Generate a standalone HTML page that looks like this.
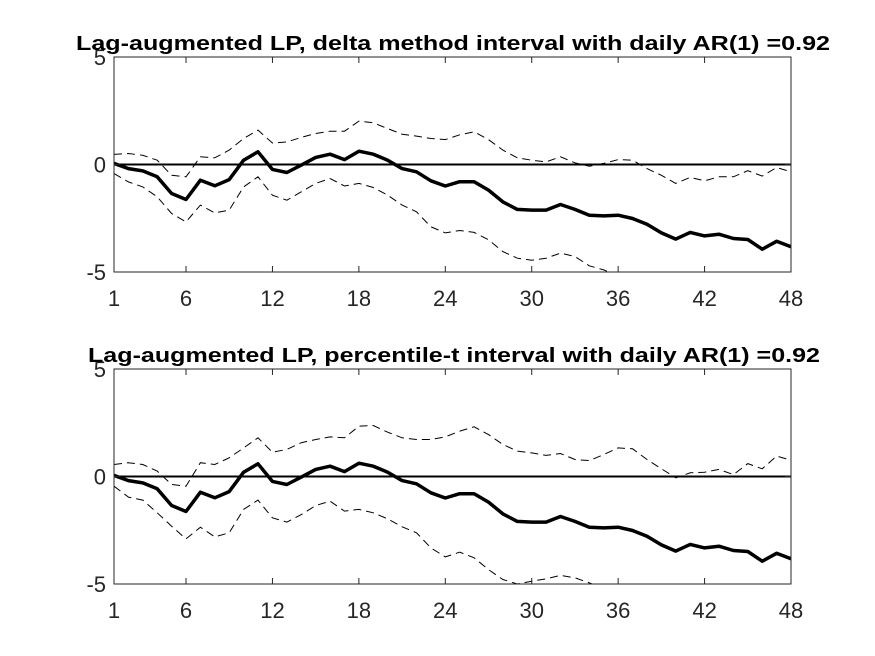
<!DOCTYPE html>
<html><head><meta charset="utf-8"><style>
body{margin:0;background:#fff;}
svg{display:block;font-family:"Liberation Sans",Arial,sans-serif;}
</style></head><body>
<svg id="chart" width="875" height="656"></svg>
<script>
const horizons = Array.from({length:48},(_,i)=>i+1);
const pointEst = [0.05,-0.19,-0.3,-0.57,-1.35,-1.63,-0.73,-0.99,-0.7,0.2,0.59,-0.23,-0.37,-0.03,0.33,0.48,0.23,0.62,0.48,0.2,-0.19,-0.34,-0.76,-1.0,-0.8,-0.8,-1.19,-1.74,-2.09,-2.12,-2.12,-1.86,-2.09,-2.36,-2.39,-2.36,-2.51,-2.78,-3.18,-3.47,-3.16,-3.32,-3.24,-3.44,-3.49,-3.94,-3.57,-3.83];
const deltaUpper = [0.47,0.51,0.43,0.2,-0.5,-0.57,0.36,0.31,0.67,1.21,1.6,1.0,1.05,1.26,1.44,1.55,1.55,2.02,1.94,1.67,1.41,1.32,1.21,1.16,1.38,1.52,1.16,0.67,0.31,0.2,0.12,0.36,0.08,-0.08,0.05,0.23,0.2,-0.19,-0.5,-0.88,-0.6,-0.76,-0.57,-0.57,-0.29,-0.54,-0.14,-0.34];
const deltaLower = [-0.42,-0.81,-1.04,-1.5,-2.28,-2.67,-1.89,-2.25,-2.12,-1.04,-0.57,-1.43,-1.66,-1.27,-0.88,-0.65,-1.0,-0.88,-1.07,-1.43,-1.89,-2.2,-2.9,-3.18,-3.07,-3.16,-3.5,-4.05,-4.36,-4.45,-4.36,-4.12,-4.28,-4.71,-4.9,-5.2,-5.4,-5.6,-5.8,-6.0,-5.9,-6.0,-5.9,-6.0,-5.9,-6.2,-5.9,-6.1];
const pctUpper = [0.56,0.64,0.56,0.25,-0.37,-0.45,0.64,0.56,0.87,1.33,1.8,1.13,1.26,1.57,1.72,1.84,1.8,2.34,2.37,2.06,1.8,1.72,1.72,1.84,2.11,2.31,1.95,1.49,1.18,1.1,0.98,1.07,0.79,0.74,1.02,1.33,1.29,0.79,0.36,-0.06,0.17,0.2,0.33,0.09,0.6,0.36,0.95,0.76];
const pctLower = [-0.45,-0.96,-1.1,-1.69,-2.31,-2.9,-2.36,-2.81,-2.62,-1.53,-1.1,-1.92,-2.12,-1.77,-1.35,-1.15,-1.61,-1.53,-1.69,-1.97,-2.34,-2.62,-3.32,-3.74,-3.52,-3.78,-4.33,-4.79,-5.0,-4.87,-4.76,-4.6,-4.71,-4.95,-5.2,-5.4,-5.6,-5.8,-6.0,-6.1,-6.0,-6.1,-6.0,-6.1,-6.0,-6.2,-6.0,-6.1];
const xTicks = [1,6,12,18,24,30,36,42,48];
const yTicks = [-5,0,5];
const titles = ["Lag-augmented LP, delta method interval with daily AR(1) =0.92","Lag-augmented LP, percentile-t interval with daily AR(1) =0.92"];

const NS="http://www.w3.org/2000/svg";
const svg=document.getElementById('chart');
function mk(t,a,p){const e=document.createElementNS(NS,t);for(const k in a)e.setAttribute(k,a[k]);(p||svg).appendChild(e);return e;}
const L=114,R=791;
const panels=[{top:57,bot:272,up:deltaUpper,lo:deltaLower,tx:76,tw:754},{top:369,bot:584,up:pctUpper,lo:pctLower,tx:88,tw:732}];
panels.forEach((P,pi)=>{
  const xs=h=>L+(h-1)*(R-L)/47;
  const ys=v=>P.bot-(v+5)*(P.bot-P.top)/10;
  const g=mk('g',{});
  
  
  const cp=mk('clipPath',{id:'cp'+pi},g);mk('rect',{x:L,y:P.top,width:R-L,height:P.bot-P.top},cp);
  const line=(arr,attrs,name)=>{const d=arr.map((v,i)=>(i?'L':'M')+xs(horizons[i]).toFixed(1)+','+ys(v).toFixed(1)).join('');
    const p=mk('path',Object.assign({d,fill:'none','clip-path':'url(#cp'+pi+')'},attrs),g);
    
    };
  const z=mk('line',{x1:L,x2:R,y1:ys(0),y2:ys(0),stroke:'#000','stroke-width':2},g);
  
  
  line(P.up,{stroke:'#000','stroke-width':1,'stroke-dasharray':'8,5'},'upper-band');
  line(P.lo,{stroke:'#000','stroke-width':1,'stroke-dasharray':'8,5'},'lower-band');
  line(pointEst,{stroke:'#000','stroke-width':3.5,'stroke-linejoin':'round'},'point-estimate');
  const ax=mk('rect',{x:L,y:P.top,width:R-L,height:P.bot-P.top,fill:'none',stroke:'#262626','stroke-width':1},g);
  
  
  xTicks.forEach(h=>{const x=xs(h);
    mk('line',{x1:x,x2:x,y1:P.bot,y2:P.bot-6,stroke:'#262626'},g);
    mk('line',{x1:x,x2:x,y1:P.top,y2:P.top+6,stroke:'#262626'},g);
    const tl=mk('text',{x:x,y:P.bot+34,'text-anchor':'middle','font-size':'22',fill:'#262626'},g);
    tl.textContent=h;
    
    });
  yTicks.forEach(v=>{const y=ys(v);
    mk('line',{x1:L,x2:L+6,y1:y,y2:y,stroke:'#262626'},g);
    mk('line',{x1:R,x2:R-6,y1:y,y2:y,stroke:'#262626'},g);
    const tl=mk('text',{x:L-8,y:y+8,'text-anchor':'end','font-size':'22',fill:'#262626'},g);
    tl.textContent=v;
    
    });
  const t=mk('text',{x:P.tx,y:P.top-7,'font-size':'20','font-weight':'bold',textLength:P.tw,lengthAdjust:'spacingAndGlyphs'},g);
  t.textContent=titles[pi];
  
  
});
</script>
</body></html>
